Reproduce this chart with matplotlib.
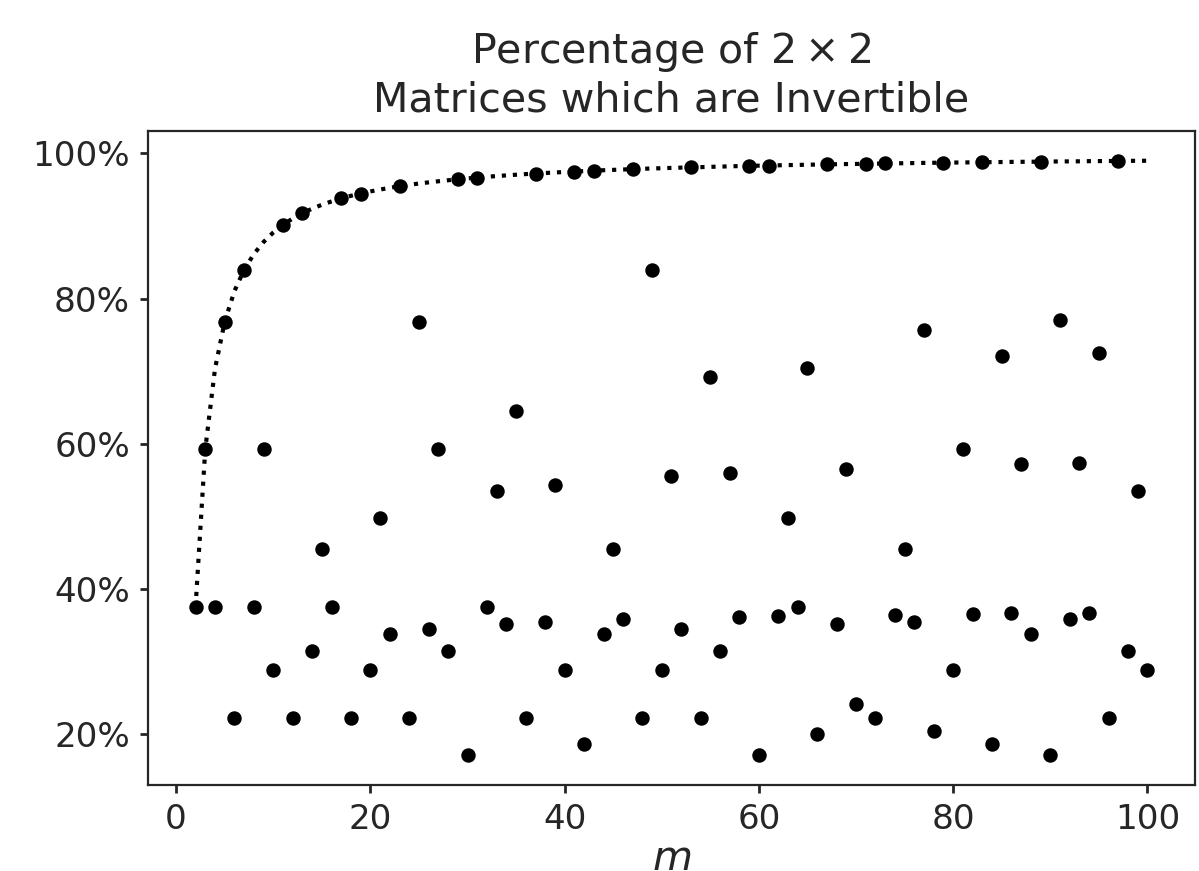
import matplotlib
matplotlib.use('Agg')
import matplotlib.pyplot as plt
from matplotlib.ticker import PercentFormatter

# Fraction of invertible 2x2 matrices mod m, m = 2..100
m_vals = list(range(2, 101))
frac = [0.375, 0.5926, 0.375, 0.768, 0.2222, 0.8397, 0.375, 0.5926, 0.288,
        0.9016, 0.2222, 0.9176, 0.3149, 0.4551, 0.375, 0.9379, 0.2222, 0.9447,
        0.288, 0.4976, 0.3381, 0.9547, 0.2222, 0.768, 0.3441, 0.5926, 0.3149,
        0.9644, 0.1707, 0.9667, 0.375, 0.5343, 0.3517, 0.6449, 0.2222, 0.9723,
        0.3543, 0.5438, 0.288, 0.9750, 0.1866, 0.9762, 0.3381, 0.4551, 0.3580,
        0.9783, 0.2222, 0.8397, 0.288, 0.5558, 0.3441, 0.9808, 0.2222, 0.6924,
        0.3149, 0.5598, 0.3617, 0.9828, 0.1707, 0.9833, 0.3625, 0.4976, 0.375,
        0.7047, 0.2003, 0.9849, 0.3517, 0.5657, 0.2418, 0.9857, 0.2222, 0.9861,
        0.3646, 0.4551, 0.3543, 0.7571, 0.2039, 0.9872, 0.288, 0.5926, 0.3656,
        0.9878, 0.1866, 0.7203, 0.3661, 0.5715, 0.3381, 0.9886, 0.1707, 0.7705,
        0.3580, 0.5729, 0.3669, 0.7255, 0.2222, 0.9896, 0.3149, 0.5343, 0.288]

# upper envelope (prime moduli), sampled at each integer
envelope = [0.375, 0.5926, 0.7031, 0.768, 0.8102, 0.8397, 0.8613, 0.8779, 0.891,
            0.9016, 0.9103, 0.9176, 0.9238, 0.9292, 0.9338, 0.9379, 0.9416, 0.9447,
            0.9476, 0.9502, 0.9526, 0.9547, 0.9567, 0.9585, 0.9601, 0.9616, 0.9630,
            0.9644, 0.9656, 0.9667, 0.9678, 0.9688, 0.9697, 0.9706, 0.9715, 0.9723,
            0.9730, 0.9737, 0.9744, 0.9750, 0.9756, 0.9762, 0.9768, 0.9773, 0.9778,
            0.9783, 0.9788, 0.9792, 0.9796, 0.9800, 0.9804, 0.9808, 0.9811, 0.9815,
            0.9818, 0.9822, 0.9825, 0.9828, 0.9831, 0.9833, 0.9836, 0.9839, 0.9841,
            0.9844, 0.9846, 0.9849, 0.9851, 0.9853, 0.9855, 0.9857, 0.9859, 0.9861,
            0.9863, 0.9865, 0.9867, 0.9869, 0.9871, 0.9872, 0.9874, 0.9875, 0.9877,
            0.9878, 0.9880, 0.9881, 0.9883, 0.9884, 0.9885, 0.9886, 0.9888, 0.9889,
            0.9890, 0.9891, 0.9893, 0.9894, 0.9895, 0.9896, 0.9897, 0.9898, 0.9899]

txt = '#262626'
plt.rcParams['text.color'] = txt
plt.rcParams['xtick.color'] = txt
plt.rcParams['ytick.color'] = txt
plt.rcParams['axes.labelcolor'] = txt
plt.rcParams['axes.edgecolor'] = '#262626'

fig = plt.figure(figsize=(5.995, 4.355), dpi=200)
ax = fig.add_axes([0.1234, 0.0987, 0.8733, 0.7509])

ax.plot(m_vals, envelope, color='black', linestyle=':', linewidth=1.5)
ax.plot(m_vals, frac, 'o', color='black', markersize=4.2, linestyle='none')

ax.set_yticks([0.2, 0.4, 0.6, 0.8, 1.0])
ax.yaxis.set_major_formatter(PercentFormatter(1.0, decimals=0))
ax.tick_params(labelsize=12.3, length=3.0, width=1.0, pad=3.5)
ax.set_xlabel('$m$', fontsize=14.8, labelpad=1)
ax.set_title('Percentage of $2 \\times 2$\nMatrices which are Invertible', fontsize=14.8, pad=7)

fig.savefig('out.png', dpi=200)
